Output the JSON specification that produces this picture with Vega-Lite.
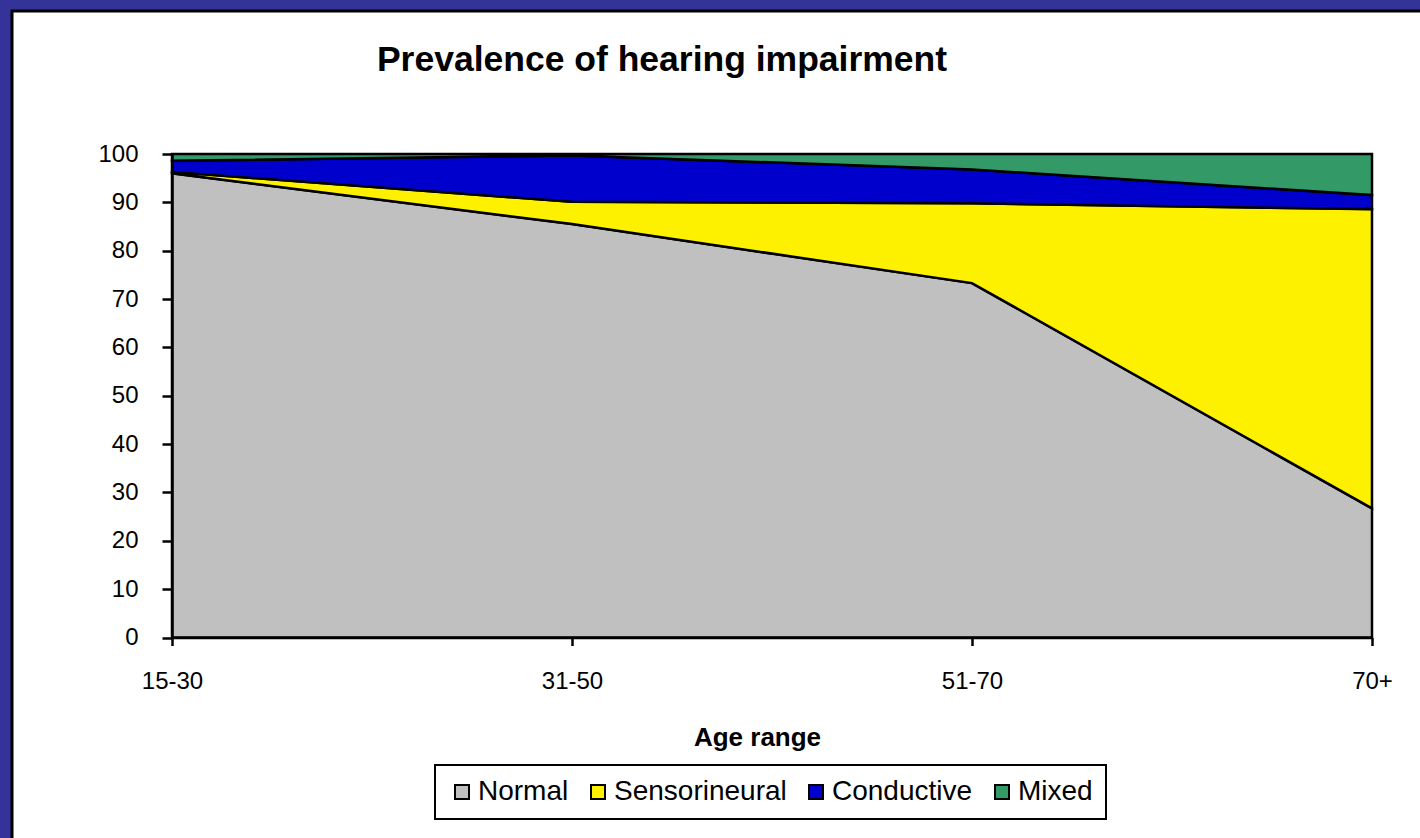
{
  "$schema": "https://vega.github.io/schema/vega-lite/v6.json",
  "width": 1408,
  "height": 827,
  "autosize": {"type": "none"},
  "padding": {"left": 12, "top": 11, "right": 0, "bottom": 0},
  "background": "#333399",
  "title": {
    "text": "Prevalence of hearing impairment",
    "anchor": "middle",
    "frame": "group",
    "dx": -54,
    "offset": -67,
    "font": "Liberation Sans",
    "fontSize": 35.5,
    "fontWeight": "bold",
    "color": "black"
  },
  "data": {
    "values": [
      {"age": "15-30", "type": "Normal", "rank": 1, "value": 96.0},
      {"age": "15-30", "type": "Sensorineural", "rank": 2, "value": 0.3},
      {"age": "15-30", "type": "Conductive", "rank": 3, "value": 2.3},
      {"age": "15-30", "type": "Mixed", "rank": 4, "value": 1.4},
      {"age": "31-50", "type": "Normal", "rank": 1, "value": 85.5},
      {"age": "31-50", "type": "Sensorineural", "rank": 2, "value": 4.6},
      {"age": "31-50", "type": "Conductive", "rank": 3, "value": 9.6},
      {"age": "31-50", "type": "Mixed", "rank": 4, "value": 0.3},
      {"age": "51-70", "type": "Normal", "rank": 1, "value": 73.3},
      {"age": "51-70", "type": "Sensorineural", "rank": 2, "value": 16.5},
      {"age": "51-70", "type": "Conductive", "rank": 3, "value": 7.0},
      {"age": "51-70", "type": "Mixed", "rank": 4, "value": 3.2},
      {"age": "70+", "type": "Normal", "rank": 1, "value": 26.7},
      {"age": "70+", "type": "Sensorineural", "rank": 2, "value": 61.9},
      {"age": "70+", "type": "Conductive", "rank": 3, "value": 2.9},
      {"age": "70+", "type": "Mixed", "rank": 4, "value": 8.5}
    ]
  },
  "mark": {"type": "area", "stroke": "black", "strokeWidth": 2.5, "interpolate": "linear", "opacity": 1},
  "encoding": {
    "x": {
      "field": "age",
      "type": "ordinal",
      "sort": ["15-30", "31-50", "51-70", "70+"],
      "scale": {"type": "point", "range": [160, 1360], "padding": 0},
      "axis": {
        "title": "Age range",
        "labelAngle": 0,
        "offset": -200.5,
        "tickSize": 8,
        "labelPadding": 24,
        "titleFontWeight": "bold",
        "titleFontSize": 26,
        "titleX": 745,
        "titleY": 100,
        "titleAlign": "center",
        "titleBaseline": "middle",
        "zindex": 1
      }
    },
    "y": {
      "field": "value",
      "type": "quantitative",
      "stack": "zero",
      "scale": {"domain": [0, 100], "range": [626.5, 143], "nice": false, "zero": true},
      "axis": {
        "title": null,
        "values": [0, 10, 20, 30, 40, 50, 60, 70, 80, 90, 100],
        "offset": -160,
        "tickSize": 10,
        "labelPadding": 24,
        "zindex": 1
      }
    },
    "color": {
      "field": "type",
      "type": "nominal",
      "scale": {
        "domain": ["Normal", "Sensorineural", "Conductive", "Mixed"],
        "range": ["#C0C0C0", "#FDF100", "#0000CC", "#339966"]
      },
      "legend": {
        "orient": "none",
        "legendX": 423,
        "legendY": 754,
        "direction": "horizontal",
        "columns": 4,
        "title": null,
        "symbolType": "square",
        "symbolSize": 196,
        "symbolStrokeColor": "black",
        "symbolStrokeWidth": 2,
        "symbolOpacity": 1,
        "labelFontSize": 28,
        "labelFont": "Liberation Sans",
        "labelColor": "black",
        "labelLimit": 500,
        "labelOffset": 2,
        "padding": 13,
        "columnPadding": 15,
        "strokeColor": "black"
      }
    },
    "order": {"field": "rank", "type": "quantitative"}
  },
  "config": {
    "view": {"fill": "white", "stroke": "black", "strokeWidth": 3, "strokeDash": [1408, 2235, 827]},
    "font": "Liberation Sans",
    "axis": {
      "grid": false,
      "domainColor": "black",
      "domainWidth": 2.5,
      "tickColor": "black",
      "tickWidth": 2.5,
      "labelColor": "black",
      "labelFont": "Liberation Sans",
      "labelFontSize": 24,
      "titleColor": "black",
      "titleFont": "Liberation Sans"
    },
    "legend": {"strokeWidth": 2}
  }
}
